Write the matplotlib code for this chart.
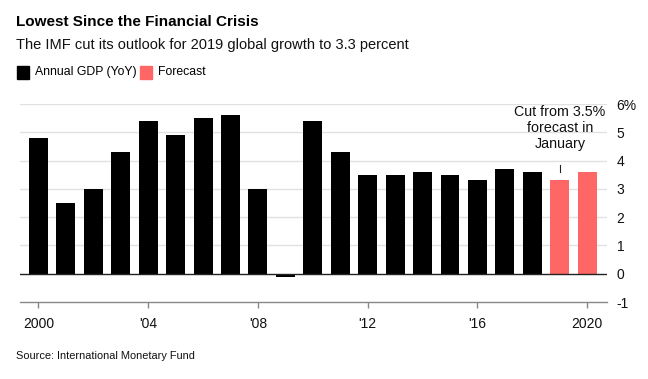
import matplotlib.pyplot as plt
from matplotlib.patches import Rectangle

plt.rcParams['font.family'] = ['Liberation Sans', 'DejaVu Sans']

# Data
years = list(range(2000, 2021))
gdp = [4.8, 2.5, 3.0, 4.3, 5.4, 4.9, 5.5, 5.6, 3.0, -0.1, 5.4,
       4.3, 3.5, 3.5, 3.6, 3.5, 3.3, 3.7, 3.6, 3.3, 3.6]
forecast_years = [2019, 2020]
yticks = [-1, 0, 1, 2, 3, 4, 5, 6]
ytick_labels = ['-1', '0', '1', '2', '3', '4', '5', '6%']
xticks = [2000, 2004, 2008, 2012, 2016, 2020]
xtick_labels = ['2000', "'04", "'08", "'12", "'16", '2020']

BLACK = '#000000'
RED = '#ff6666'

W, H = 648, 379
fig = plt.figure(figsize=(W / 100, H / 100), dpi=100)
ax = fig.add_axes([20 / W, 1 - 302 / H, 587 / W, 198 / H])

colors = [RED if y in forecast_years else BLACK for y in years]
ax.bar(years, gdp, width=0.69, color=colors, zorder=3)

ax.set_xlim(1999.33, 2020.72)
ax.set_ylim(-1, 6)

# gridlines
for v in yticks:
    if v == 0:
        ax.axhline(v, color='#222222', lw=1.0, zorder=4)
    elif v > 0:
        ax.axhline(v, color='#e1e1e1', lw=1.0, zorder=1)

for s in ['top', 'left', 'right']:
    ax.spines[s].set_visible(False)
ax.spines['bottom'].set_color('#888888')
ax.spines['bottom'].set_linewidth(1.0)

ax.yaxis.tick_right()
ax.set_yticks(yticks)
ax.set_yticklabels(ytick_labels)
ax.tick_params(axis='y', length=0, pad=7, labelsize=10, labelcolor='#111111')
ax.set_xticks(xticks)
ax.set_xticklabels(xtick_labels)
ax.tick_params(axis='x', length=4.5, width=1, color='#888888', pad=6,
               labelsize=10, labelcolor='#111111')

# annotation
ax.text(2019, 4.35, 'Cut from 3.5%\nforecast in\nJanuary', ha='center', va='bottom',
        fontsize=10.3, color='#111111', linespacing=1.15)
ax.plot([2019, 2019], [3.6, 3.85], color='#222222', lw=0.8)

# titles
fig.text(16 / W, 1 - 22 / H, 'Lowest Since the Financial Crisis', fontsize=11,
         fontweight='bold', va='center', ha='left', color='#000000')
fig.text(16 / W, 1 - 45 / H, 'The IMF cut its outlook for 2019 global growth to 3.3 percent',
         fontsize=10.5, va='center', ha='left', color='#111111')

# legend
fig.patches.append(Rectangle((17 / W, 1 - 79 / H), 12 / W, 13 / H, color=BLACK,
                             transform=fig.transFigure, figure=fig))
fig.text(35 / W, 1 - 72 / H, 'Annual GDP (YoY)', fontsize=8.8, va='center', ha='left')
fig.patches.append(Rectangle((140 / W, 1 - 79 / H), 12 / W, 13 / H, color=RED,
                             transform=fig.transFigure, figure=fig))
fig.text(158 / W, 1 - 72 / H, 'Forecast', fontsize=8.8, va='center', ha='left')

fig.text(16 / W, 1 - 356 / H, 'Source: International Monetary Fund', fontsize=7.9,
         va='center', ha='left', color='#111111')

plt.savefig('out.png', dpi=100)
